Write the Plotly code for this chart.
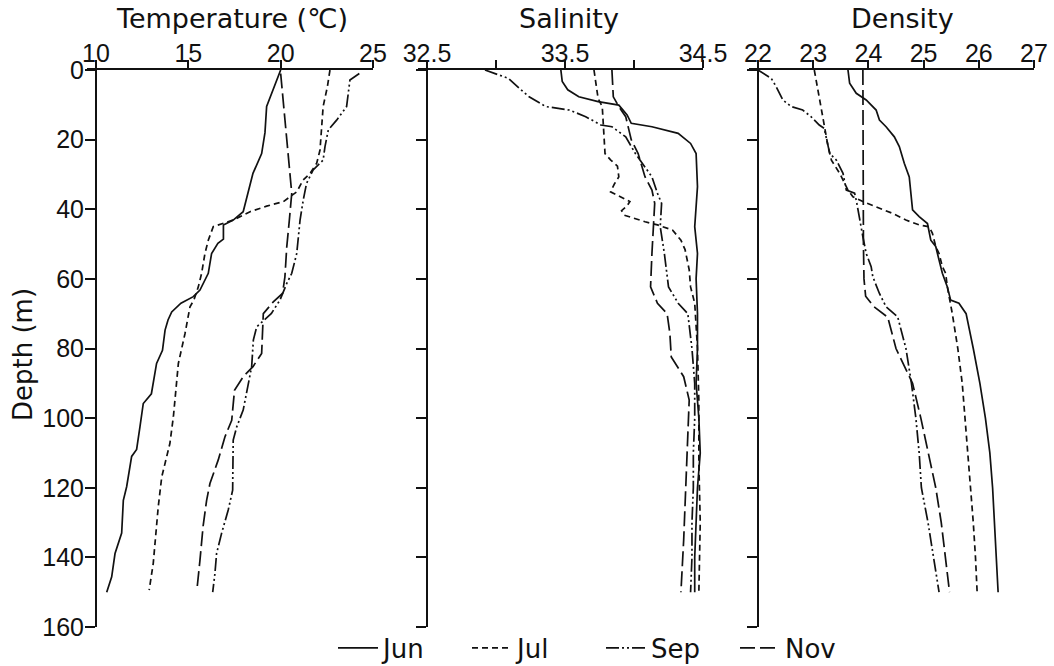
import plotly.graph_objects as go

# ---------------- data ----------------
months = ["Jun", "Jul", "Sep", "Nov"]

# Temperature (degC) profiles
jun_t_depth = [0, 6.7, 10.5, 18, 24, 29.7, 36.4, 40.7, 43.1, 44.5, 48.6, 49.8, 52.7, 58.4, 63.2, 65.1, 67, 69.5, 71.8, 74.7, 80.5, 84.3, 93, 95.8, 102.5, 109, 111, 119.7, 123.6, 133, 138.9, 145.6, 150]
jun_t = [20.0, 19.5, 19.24, 19.15, 18.97, 18.5, 18.16, 17.97, 17.43, 16.9, 16.9, 16.6, 16.26, 16.08, 15.63, 15.27, 14.6, 14.1, 13.9, 13.74, 13.6, 13.28, 13.0, 12.56, 12.38, 12.2, 11.93, 11.66, 11.48, 11.39, 11.03, 10.85, 10.58]

jul_t_depth = [0, 4.8, 10.5, 17.2, 23, 26.8, 29.7, 31.6, 35, 37.8, 39.1, 40.7, 43.1, 45, 48.9, 52.7, 58.4, 62.3, 66.1, 68, 75.7, 84.3, 92.9, 99.6, 107.3, 116.9, 125.5, 133.1, 141.7, 149.4]
jul_t = [22.67, 22.53, 22.3, 22.22, 22.13, 21.95, 21.59, 21.22, 20.87, 20.15, 19.24, 18.34, 17.43, 16.35, 16.08, 15.9, 15.72, 15.54, 15.3, 15.09, 14.82, 14.46, 14.33, 14.19, 14.0, 13.56, 13.37, 13.25, 13.1, 12.88]

sep_t_depth = [1, 2.9, 10.5, 14.4, 17.2, 22, 25.9, 28.7, 32.6, 37.4, 43.1, 47.9, 52.7, 58.4, 61.3, 66.1, 69.9, 73.8, 77.6, 85.2, 92.9, 97.7, 102.5, 106.3, 120.7, 126.4, 133.1, 138.9, 144.6, 150]
sep_t = [24.26, 23.75, 23.57, 23.03, 22.58, 22.4, 22.3, 21.76, 21.4, 21.22, 21.05, 20.95, 20.87, 20.6, 20.33, 19.96, 19.5, 18.7, 18.52, 18.43, 18.16, 17.97, 17.62, 17.43, 17.4, 17.16, 16.8, 16.53, 16.44, 16.32]

nov_t_depth = [1, 9.6, 19.2, 27.8, 35.4, 43.1, 50.8, 59.4, 64.2, 66.6, 70, 81.4, 85.2, 88.1, 92, 100.6, 105.4, 112, 118.8, 123.6, 131, 140.8, 148.5]
nov_t = [20.0, 20.15, 20.33, 20.5, 20.6, 20.47, 20.33, 20.23, 20.1, 19.6, 19.06, 18.97, 18.5, 17.97, 17.5, 17.35, 16.98, 16.62, 16.17, 15.99, 15.8, 15.63, 15.48]

# Salinity profiles
jun_s_depth = [0, 3.3, 5.7, 7.7, 9.1, 10.1, 12.9, 15.3, 16.3, 18.2, 21.1, 24, 33.5, 40.7, 45, 52.7, 60, 70, 80, 90, 100, 110, 120, 130, 140, 150]
jun_s = [33.47, 33.48, 33.52, 33.6, 33.74, 33.89, 33.95, 33.98, 34.13, 34.32, 34.41, 34.45, 34.46, 34.45, 34.44, 34.46, 34.45, 34.46, 34.46, 34.45, 34.47, 34.48, 34.46, 34.45, 34.44, 34.44]

jul_s_depth = [0, 8.2, 10.5, 16.3, 24, 25.8, 27.6, 30.7, 32.6, 35, 37.8, 39, 40.4, 41.7, 43.6, 44.5, 46, 48.9, 51.6, 57.4, 62.3, 67, 80, 95, 113, 130, 150]
jul_s = [33.71, 33.74, 33.77, 33.78, 33.79, 33.83, 33.88, 33.89, 33.86, 33.83, 33.97, 33.95, 33.91, 33.93, 34.08, 34.17, 34.28, 34.34, 34.37, 34.4, 34.41, 34.44, 34.46, 34.47, 34.47, 34.48, 34.47]

sep_s_depth = [0, 2.4, 5.3, 7.7, 10.5, 11.5, 13.4, 15.8, 16.3, 19.2, 24, 27.8, 30.7, 35.4, 38.3, 45, 52.7, 62.3, 67, 70, 80, 90, 100, 110, 120, 130, 140, 150]
sep_s = [32.92, 33.09, 33.17, 33.24, 33.36, 33.53, 33.65, 33.76, 33.84, 33.94, 34.01, 34.08, 34.13, 34.17, 34.2, 34.19, 34.22, 34.25, 34.32, 34.39, 34.42, 34.44, 34.44, 34.43, 34.43, 34.42, 34.42, 34.41]

nov_s_depth = [0, 7.7, 10.5, 13.4, 20, 24, 30.7, 34.5, 38.3, 45, 52.7, 62.3, 67, 70, 75.7, 82.4, 88.1, 94.8, 105, 120, 135, 150]
nov_s = [33.84, 33.85, 33.89, 33.94, 33.98, 34.03, 34.08, 34.13, 34.15, 34.14, 34.13, 34.12, 34.17, 34.24, 34.26, 34.27, 34.36, 34.4, 34.39, 34.37, 34.36, 34.34]

# Density (sigma-t) profiles
jun_d_depth = [0, 3.8, 6.7, 8.6, 11.5, 14.4, 16.3, 19.2, 22, 26.8, 30.7, 35.4, 40.2, 42.1, 44.1, 48.9, 50.7, 54.6, 58.4, 62.3, 66.1, 67, 70, 80, 90, 100, 110, 120, 130, 140, 150]
jun_d = [23.63, 23.66, 23.78, 23.96, 24.14, 24.2, 24.32, 24.47, 24.56, 24.65, 24.74, 24.77, 24.8, 24.92, 25.07, 25.13, 25.22, 25.28, 25.34, 25.43, 25.49, 25.64, 25.77, 25.9, 26.02, 26.12, 26.2, 26.25, 26.28, 26.32, 26.35]

jul_d_depth = [0, 7.7, 16.3, 22, 25.9, 29.7, 34.5, 36.4, 37.8, 39.3, 41.2, 43.1, 44.5, 45, 46.9, 50.7, 52.7, 56.5, 58.4, 62.3, 70, 80, 90, 100, 110, 120, 130, 140, 150]
jul_d = [23.02, 23.11, 23.2, 23.27, 23.33, 23.48, 23.63, 23.72, 23.9, 24.14, 24.44, 24.68, 24.92, 25.1, 25.16, 25.22, 25.28, 25.34, 25.4, 25.43, 25.52, 25.62, 25.7, 25.75, 25.8, 25.86, 25.9, 25.94, 25.97]

sep_d_depth = [0, 2.4, 4.8, 8.6, 10.5, 11.5, 13.4, 15.8, 16.8, 22, 24, 25.9, 29.7, 34.5, 35.4, 37.4, 43.1, 47.9, 52.7, 56.5, 59.4, 64.2, 68, 70.9, 80, 90, 100, 110, 120, 130, 140, 150]
sep_d = [22.0, 22.24, 22.33, 22.45, 22.6, 22.81, 22.96, 23.11, 23.2, 23.27, 23.3, 23.42, 23.54, 23.6, 23.75, 23.78, 23.84, 23.9, 23.96, 24.05, 24.08, 24.2, 24.32, 24.53, 24.68, 24.78, 24.86, 24.92, 24.96, 25.08, 25.18, 25.28]

nov_d_depth = [0, 10, 20, 30, 40, 50, 60, 65, 68, 71, 80, 90, 100, 110, 120, 130, 140, 150]
nov_d = [23.9, 23.9, 23.91, 23.9, 23.9, 23.91, 23.92, 23.95, 24.1, 24.35, 24.5, 24.8, 24.95, 25.08, 25.22, 25.32, 25.4, 25.47]

# axis ticks
temp_ticks = [10, 15, 20, 25]
temp_ticklabels = ["10", "15", "20", "25"]
sal_ticks = [32.5, 33.0, 33.5, 34.0, 34.5]
sal_ticklabels = ["32.5", "", "33.5", "", "34.5"]
den_ticks = [22, 23, 24, 25, 26, 27]
den_ticklabels = ["22", "23", "24", "25", "26", "27"]
depth_ticks = [0, 20, 40, 60, 80, 100, 120, 140, 160]
depth_ticklabels = ["0", "20", "40", "60", "80", "100", "120", "140", "160"]

# ---------------- styling ----------------
W, H = 1054, 666
FONT = "Liberation Sans, Arial, sans-serif"
TFONT = "DejaVu Sans, Liberation Sans, sans-serif"
INK = "#111111"
dashes = {"Jun": "solid", "Jul": "6px,4px", "Sep": "13px,3px,2px,3px,2px,3px", "Nov": "15px,5px"}

profiles = {
    "Temperature": {"Jun": (jun_t, jun_t_depth), "Jul": (jul_t, jul_t_depth),
                    "Sep": (sep_t, sep_t_depth), "Nov": (nov_t, nov_t_depth)},
    "Salinity": {"Jun": (jun_s, jun_s_depth), "Jul": (jul_s, jul_s_depth),
                 "Sep": (sep_s, sep_s_depth), "Nov": (nov_s, nov_s_depth)},
    "Density": {"Jun": (jun_d, jun_d_depth), "Jul": (jul_d, jul_d_depth),
                "Sep": (sep_d, sep_d_depth), "Nov": (nov_d, nov_d_depth)},
}

# panel layout: (name, axis suffix, v0, v1, px of v0, px of v1, ticks, labels)
panels = [
    ("Temperature", "", 10, 25, 96, 373, temp_ticks, temp_ticklabels),
    ("Salinity", "2", 32.5, 34.5, 427, 703, sal_ticks, sal_ticklabels),
    ("Density", "3", 22, 27, 758, 1034, den_ticks, den_ticklabels),
]
Y_TOP, Y_BOT = 70, 627
EXT = 9  # x axis line runs a little left of the depth axis

fig = go.Figure()
layout = dict(
    width=W, height=H, margin=dict(l=0, r=0, t=0, b=0, autoexpand=False),
    paper_bgcolor="white", plot_bgcolor="white",
    font=dict(family=FONT, size=24, color=INK),
    showlegend=True,
    legend=dict(orientation="h", x=333 / W, xanchor="left", y=1 - 648 / H, yanchor="middle",
                font=dict(size=26, family=TFONT, color=INK), bgcolor="rgba(0,0,0,0)",
                entrywidth=79, itemwidth=40, tracegroupgap=0),
)

for i, (name, sfx, v0, v1, p0, p1, tv, tt) in enumerate(panels):
    scale = (v1 - v0) / (p1 - p0)
    xa = "xaxis" + sfx
    ya = "yaxis" + sfx
    layout[xa] = dict(
        domain=[(p0 - EXT) / W, p1 / W], range=[v0 - EXT * scale, v1],
        side="top", anchor="y" + sfx, showline=True, linecolor=INK, linewidth=2,
        ticks="outside", ticklen=8, tickwidth=2, tickcolor=INK, ticklabelstandoff=-12,
        tickvals=tv, ticktext=tt, showgrid=False, zeroline=False, automargin=False,
        tickfont=dict(size=25, family=FONT, color=INK), fixedrange=True,
    )
    layout[ya] = dict(
        domain=[1 - Y_BOT / H, 1 - Y_TOP / H], range=[160, 0],
        anchor="free", position=p0 / W, showline=True, linecolor=INK, linewidth=2,
        ticks="outside", ticklen=10, tickwidth=2, tickcolor=INK, ticklabelstandoff=-4,
        tickvals=depth_ticks, ticktext=depth_ticklabels, showticklabels=(i == 0),
        showgrid=False, zeroline=False, automargin=False,
        tickfont=dict(size=25, family=FONT, color=INK), fixedrange=True,
    )
    for m in months:
        vals, dep = profiles[name][m]
        fig.add_trace(go.Scatter(
            x=vals, y=dep, mode="lines", name=m, legendgroup=m, showlegend=(i == 0),
            line=dict(color=INK, width=1.7, dash=dashes[m]),
            xaxis="x" + sfx, yaxis="y" + sfx, hoverinfo="skip",
        ))

title_font = dict(size=27, family=TFONT, color=INK)
layout["annotations"] = [
    dict(text="Temperature (℃)", x=232 / W, y=1 - 19 / H, xref="paper", yref="paper",
         xanchor="center", yanchor="middle", showarrow=False, font=title_font),
    dict(text="Salinity", x=569 / W, y=1 - 19 / H, xref="paper", yref="paper",
         xanchor="center", yanchor="middle", showarrow=False, font=title_font),
    dict(text="Density", x=902 / W, y=1 - 19 / H, xref="paper", yref="paper",
         xanchor="center", yanchor="middle", showarrow=False, font=title_font),
    dict(text="Depth (m)", x=23 / W, y=1 - 355 / H, xref="paper", yref="paper",
         xanchor="center", yanchor="middle", showarrow=False, textangle=-90,
         font=dict(size=26, family=TFONT, color=INK)),
]

fig.update_layout(**layout)
fig.write_html("out.html", config={"displayModeBar": False},
               post_script="document.body.style.margin='0';")
